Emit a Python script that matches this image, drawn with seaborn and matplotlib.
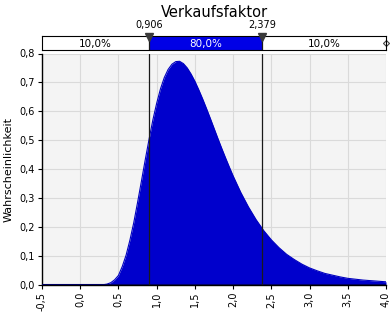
import matplotlib
matplotlib.use("Agg")
import matplotlib.pyplot as plt
import numpy as np
import pandas as pd
import seaborn as sns

# ---- data ----
x_values = [-0.5, -0.4, -0.3, -0.2, -0.1, 0.0, 0.1, 0.2, 0.3,
            0.35, 0.40, 0.45, 0.50, 0.55, 0.60, 0.65, 0.70, 0.75, 0.80,
            0.85, 0.90, 0.95, 1.00, 1.05, 1.10, 1.15, 1.20, 1.25, 1.30,
            1.35, 1.40, 1.45, 1.50, 1.55, 1.60, 1.65, 1.70, 1.75, 1.80,
            1.85, 1.90, 1.95, 2.00, 2.10, 2.20, 2.30, 2.40, 2.50, 2.60,
            2.70, 2.80, 2.90, 3.00, 3.10, 3.20, 3.30, 3.40, 3.50, 3.60,
            3.70, 3.80, 3.90, 4.00]
density = [0.0, 0.0, 0.0, 0.0, 0.0, 0.0, 0.0, 0.0, 0.001,
           0.003, 0.008, 0.018, 0.033, 0.064, 0.103, 0.155, 0.215, 0.285, 0.358,
           0.432, 0.503, 0.570, 0.628, 0.678, 0.717, 0.745, 0.763, 0.772, 0.773,
           0.765, 0.750, 0.729, 0.704, 0.675, 0.644, 0.611, 0.577, 0.542, 0.507,
           0.473, 0.440, 0.408, 0.377, 0.320, 0.270, 0.226, 0.188, 0.156, 0.129,
           0.106, 0.088, 0.072, 0.059, 0.049, 0.040, 0.034, 0.028, 0.023, 0.020,
           0.017, 0.015, 0.013, 0.011]
lower_bound = 0.906
upper_bound = 2.379
lower_label = "0,906"
upper_label = "2,379"
band_labels = ["10,0%", "80,0%", "10,0%"]
x_ticks = [-0.5, 0.0, 0.5, 1.0, 1.5, 2.0, 2.5, 3.0, 3.5, 4.0]
y_ticks = [0.0, 0.1, 0.2, 0.3, 0.4, 0.5, 0.6, 0.7, 0.8]
title = "Verkaufsfaktor"
y_label = "Wahrscheinlichkeit"

df = pd.DataFrame({"x": x_values, "p": density})

sns.set_theme(style="whitegrid")
plt.rcParams["font.family"] = ["DejaVu Sans"]
plt.rcParams["text.color"] = "black"
plt.rcParams["axes.labelcolor"] = "black"

W, H = 391, 312
fig = plt.figure(figsize=(W / 100, H / 100), dpi=100)
fig.patch.set_facecolor("white")

# main axes
ax = fig.add_axes([42 / W, (H - 285) / H, 344 / W, (285 - 53.5) / H])
ax.set_facecolor("#F4F4F4")
ax.fill_between(df["x"], df["p"], color="#0000CC", lw=0, zorder=2)
sns.lineplot(data=df, x="x", y="p", ax=ax, color="#0000C0", lw=0.8, zorder=3)
ax.axhline(0, color="#000060", lw=1.5, zorder=3)
ax.axvline(lower_bound, color="#1A1A1A", lw=0.9, zorder=4)
ax.axvline(upper_bound, color="#1A1A1A", lw=0.9, zorder=4)

ax.set_xlim(-0.5, 4.0)
ax.set_ylim(0, 0.8)
ax.set_xticks(x_ticks)
ax.set_yticks(y_ticks)
ax.set_xticklabels([f"{v:.1f}".replace(".", ",") for v in x_ticks], rotation=90)
ax.set_yticklabels([f"{v:.1f}".replace(".", ",") for v in y_ticks])
ax.grid(True, color="#DADADA", lw=0.8)
ax.set_axisbelow(True)
ax.tick_params(axis="both", direction="out", length=3, width=0.8, colors="black",
               labelsize=7, pad=2, bottom=True, left=True)
ax.set_xlabel("")
ax.set_ylabel(y_label, fontsize=8, labelpad=4, color="black")
for s in ["top", "right"]:
    ax.spines[s].set_visible(False)
for s in ["left", "bottom"]:
    ax.spines[s].set_color("black")
    ax.spines[s].set_linewidth(1.0)

# band axes
band = fig.add_axes([42 / W, (H - 50) / H, 344 / W, 14.3 / H])
band.set_xlim(-0.5, 4.0)
band.set_ylim(0, 1)
band.set_facecolor("white")
band.axvspan(lower_bound, upper_bound, color="#0000E6", lw=0)
band.axvline(lower_bound, color="#1A1A1A", lw=0.9)
band.axvline(upper_bound, color="#1A1A1A", lw=0.9)
band.set_xticks([])
band.set_yticks([])
band.grid(False)
for s in band.spines.values():
    s.set_color("black")
    s.set_linewidth(0.8)
band.text((-0.5 + lower_bound) / 2, 0.45, band_labels[0], ha="center", va="center",
          fontsize=7.5, color="black")
band.text((lower_bound + upper_bound) / 2, 0.45, band_labels[1], ha="center", va="center",
          fontsize=7.5, color="white")
band.text((upper_bound + 4.0) / 2, 0.45, band_labels[2], ha="center", va="center",
          fontsize=7.5, color="black")
band.plot([lower_bound, upper_bound], [0.88, 0.88], linestyle="none", marker="v",
          markersize=6, color="#3A3A3A", clip_on=False, zorder=5)
band.plot([3.96, 4.04], [0.5, 0.5], color="#444444", lw=0.8, clip_on=False)
band.plot([4.0], [0.5], marker="D", markersize=3, mfc="white", mec="#444444",
          mew=0.8, clip_on=False, linestyle="none")
band.text(lower_bound, 1.72, lower_label, ha="center", va="center", fontsize=7, color="black")
band.text(upper_bound, 1.72, upper_label, ha="center", va="center", fontsize=7, color="black")

fig.text(214 / W, 1 - 12.5 / H, title, ha="center", va="center", fontsize=10.5, color="black")

fig.savefig("out.png", dpi=100, facecolor="white")
